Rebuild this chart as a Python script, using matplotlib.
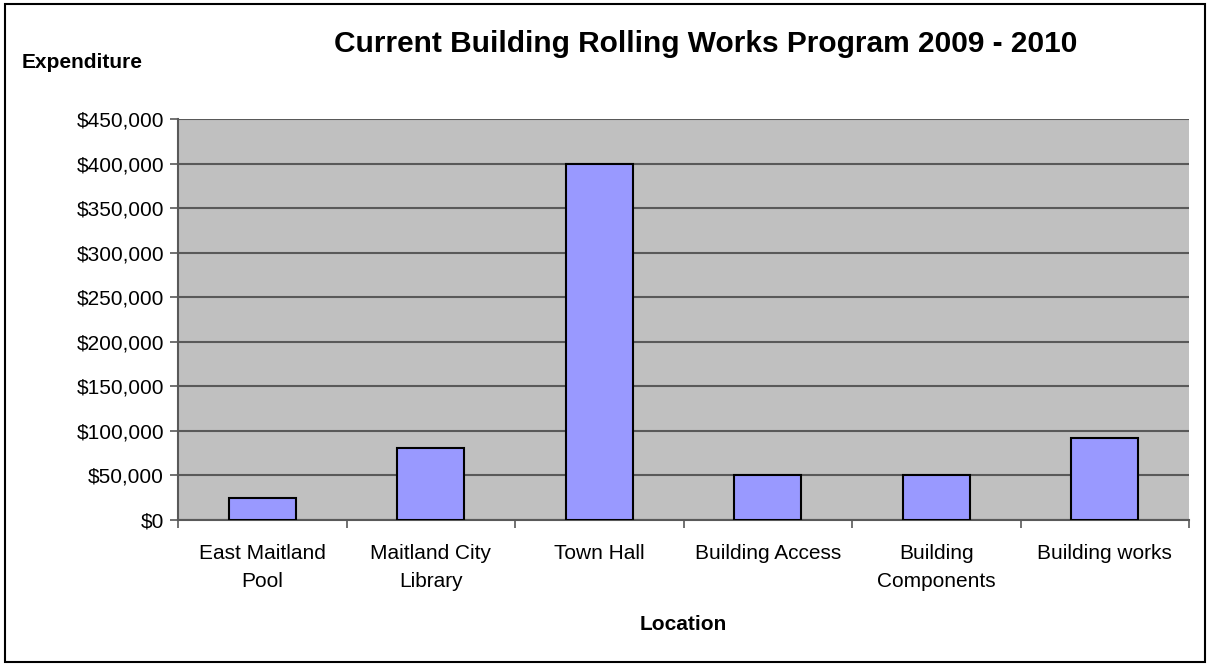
import matplotlib
matplotlib.use("Agg")
import matplotlib.pyplot as plt
from matplotlib.patches import Rectangle
from matplotlib.ticker import FuncFormatter, MultipleLocator
import numpy as np

plt.rcParams['font.family'] = ['Liberation Sans', 'DejaVu Sans']

categories = ["East Maitland\nPool", "Maitland City\nLibrary", "Town Hall",
              "Building Access", "Building\nComponents", "Building works"]
expenditure = [25000, 81000, 400000, 50000, 50000, 92000]

W, H = 1210, 666
fig = plt.figure(figsize=(W / 100, H / 100), dpi=100)

# outer chart border
fig.patches.append(Rectangle((5 / W, 4 / H), 1200 / W, 658 / H, transform=fig.transFigure,
                             fill=False, edgecolor="black", linewidth=1.5))

left, right, top, bottom = 178, 1189, 119, 520
ax = fig.add_axes([left / W, 1 - bottom / H, (right - left) / W, (bottom - top) / H])
ax.set_facecolor("#c0c0c0")

x = np.arange(len(categories))
ax.bar(x, expenditure, width=0.4, color="#9999ff", edgecolor="black", linewidth=1.5, zorder=3)

ax.set_xlim(-0.5, len(categories) - 0.5)
ax.set_ylim(0, 450000)
ax.yaxis.set_major_locator(MultipleLocator(50000))
ax.yaxis.set_major_formatter(FuncFormatter(lambda v, p: f"${v:,.0f}"))
ax.grid(axis="y", color="#595959", linewidth=1.5, zorder=1)

ax.set_xticks(x)
ax.set_xticklabels(categories, fontsize=15, linespacing=1.65)
ax.set_xticks(np.arange(len(categories) + 1) - 0.5, minor=True)
ax.tick_params(axis="x", which="major", length=0, pad=17)
ax.tick_params(axis="x", which="minor", length=6, color="#595959", width=1.2)
ax.tick_params(axis="y", length=6, color="#595959", width=1.2, labelsize=15, pad=4)

for s in ("top", "right"):
    ax.spines[s].set_visible(False)
for s in ("left", "bottom"):
    ax.spines[s].set_color("#595959")
    ax.spines[s].set_linewidth(1.5)

fig.text(706 / W, 1 - 44 / H, "Current Building Rolling Works Program 2009 - 2010",
         ha="center", va="center", fontsize=21.5, fontweight="bold")
fig.text(22 / W, 1 - 63 / H, "Expenditure", ha="left", va="center",
         fontsize=15, fontweight="bold")
fig.text(683 / W, 1 - 625 / H, "Location", ha="center", va="center",
         fontsize=15, fontweight="bold")

fig.savefig("out.png", dpi=100)
